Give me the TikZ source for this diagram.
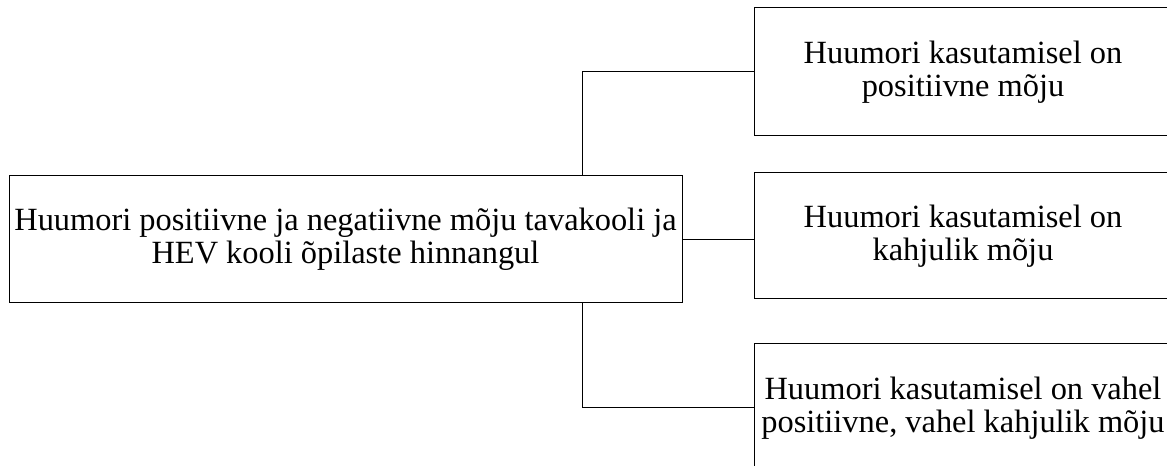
\documentclass[tikz,border=0pt]{standalone}
\usepackage{fontspec}
\setmainfont{Liberation Serif}
\begin{document}
\begin{tikzpicture}[x=0.75pt,y=-0.75pt,
  box/.style={draw=black,line width=0.75pt,align=center,inner sep=0pt,
    font=\fontsize{24.3pt}{24.5pt}\selectfont},
  link/.style={draw=black,line width=0.75pt}]
\useasboundingbox (0,0) rectangle (1167,466);
\clip (0,0) rectangle (1167,466);
\node[box,minimum width=504.75pt,minimum height=95.25pt] (main) at (345.5,239.5)
  {Huumori positiivne ja negatiivne mõju tavakooli ja\\HEV kooli õpilaste hinnangul};
\node[box,minimum width=313.5pt,minimum height=96pt] (b1) at (963,72)
  {Huumori kasutamisel on\\positiivne mõju};
\node[box,minimum width=313.5pt,minimum height=94.5pt] (b2) at (963,236)
  {Huumori kasutamisel on\\kahjulik mõju};
\node[box,minimum width=313.5pt,minimum height=96pt] (b3) at (963,408)
  {Huumori kasutamisel on vahel\\positiivne, vahel kahjulik mõju};
\coordinate (v) at (582,0);
\draw[link] (main.north -| v) |- (b1.west);
\draw[link] (main.east) -- (main.east -| b2.west);
\draw[link] (main.south -| v) |- (b3.west);
\end{tikzpicture}
\end{document}
